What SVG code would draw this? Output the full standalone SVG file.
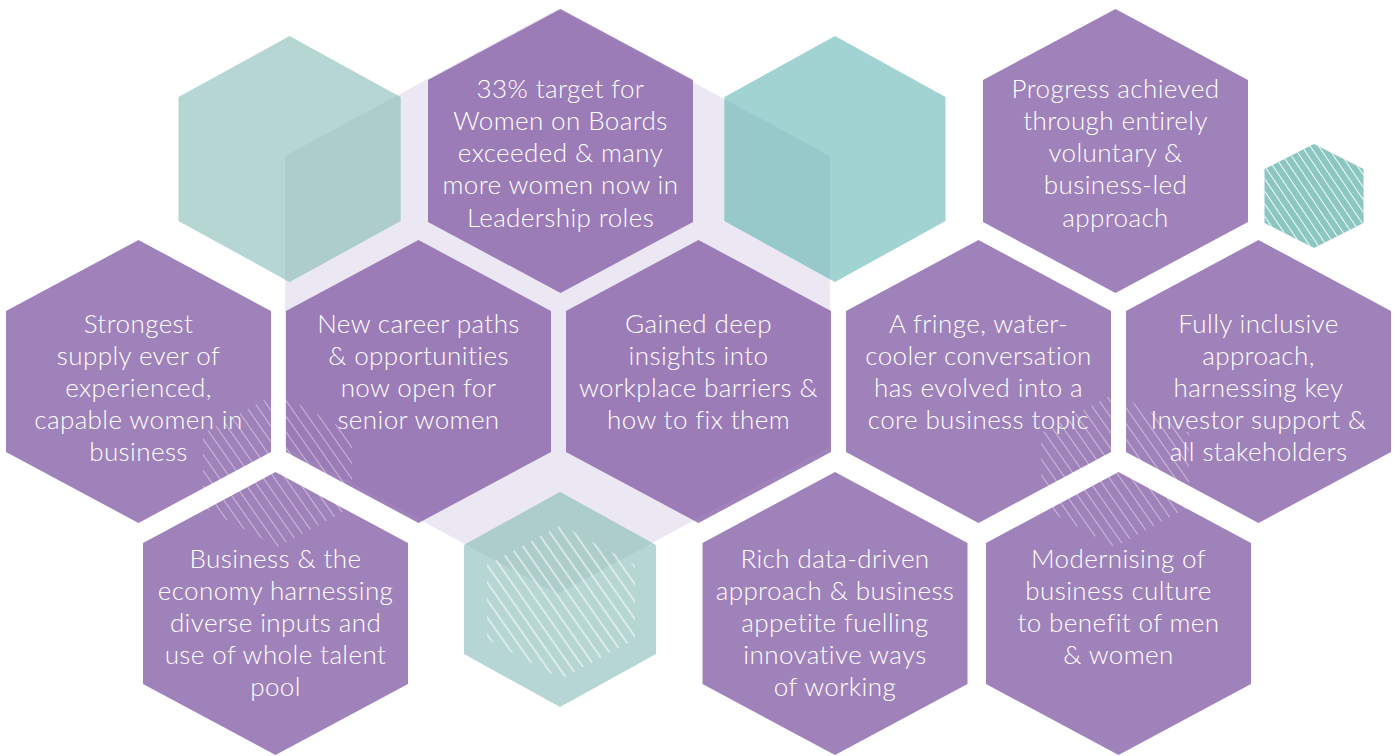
<svg xmlns="http://www.w3.org/2000/svg" width="1400" height="756" viewBox="0 0 1400 756">
  <defs>
    <style>
      .lav { fill: #ECE8F3; }
      .tealA { fill: #B5D6D3; }
      .tealA-dk { fill: #ADCDCB; }
      .tealB { fill: #A0D3D1; }
      .tealB-dk { fill: #97C9CB; }
      .tealS { fill: #8CC6C1; }
      .purple { fill: #7F56A2; fill-opacity: 0.74; }
      .hatch-soft { fill: url(#hatchSoft); }
      .hatch-white { fill: url(#hatchWhite); }
      .hatch-small { fill: url(#hatchSmall); }
      text { font-family: Lato, "Open Sans", "Liberation Sans", sans-serif; font-weight: 300; font-size: 26px; letter-spacing: 0.4px; fill: #FFFFFF; text-anchor: middle; }
    </style>
    <clipPath id="lavClip">
      <polygon points="557.5,9 830,156 830,447 557.5,594 285,447 285,156"/>
    </clipPath>
    <pattern id="hatchSoft" width="9" height="10" patternUnits="userSpaceOnUse" patternTransform="rotate(-35)">
      <line x1="4.5" y1="0" x2="4.5" y2="10" stroke="#FFFFFF" stroke-opacity="0.45" stroke-width="1"/>
    </pattern>
    <pattern id="hatchWhite" width="10" height="10" patternUnits="userSpaceOnUse" patternTransform="rotate(-35)">
      <line x1="5" y1="0" x2="5" y2="10" stroke="#FFFFFF" stroke-opacity="0.95" stroke-width="1.1"/>
    </pattern>
    <pattern id="hatchSmall" width="7" height="10" patternUnits="userSpaceOnUse" patternTransform="rotate(-34)">
      <line x1="3.5" y1="0" x2="3.5" y2="10" stroke="#FFFFFF" stroke-opacity="0.9" stroke-width="1"/>
    </pattern>
  </defs>

  <rect x="0" y="0" width="1400" height="756" fill="#FFFFFF"/>

  <!-- background lavender hexagon -->
  <g id="bg-lavender">
    <polygon class="lav" points="557.5,9 830,156 830,447 557.5,594 285,447 285,156"/>
  </g>

  <!-- decorative teal hexagons -->
  <g id="teal-top-left">
    <polygon class="tealA" points="289.5,36 400.5,97 400.5,221 289.5,282 178.5,221 178.5,97"/>
    <polygon class="tealA-dk" clip-path="url(#lavClip)" points="289.5,36 400.5,97 400.5,221 289.5,282 178.5,221 178.5,97"/>
  </g>
  <g id="teal-top-right">
    <polygon class="tealB" points="835,36 945.5,97 945.5,221 835,282 724.5,221 724.5,97"/>
    <polygon class="tealB-dk" clip-path="url(#lavClip)" points="835,36 945.5,97 945.5,221 835,282 724.5,221 724.5,97"/>
  </g>
  <g id="teal-bottom">
    <polygon class="tealA" points="560,492 656,545 656,654 560,707 464,654 464,545"/>
    <polygon class="tealA-dk" clip-path="url(#lavClip)" points="560,492 656,545 656,654 560,707 464,654 464,545"/>
    <polygon class="hatch-white" points="561,525 635,565 635,639 561,679 487,639 487,565"/>
  </g>
  <g id="teal-small">
    <polygon class="tealS" points="1314,144 1363.5,169 1363.5,223 1314,248 1264.5,223 1264.5,169"/>
    <polygon class="hatch-small" points="1314,144 1363.5,169 1363.5,223 1314,248 1264.5,223 1264.5,169"/>
  </g>

  <!-- row 1 -->
  <g id="node-33-target">
    <polygon class="purple" points="560.5,9 693,80 693,222 560.5,293 428,222 428,80"/>
    <text x="560.5" y="98">33% target for</text>
    <text x="560.5" y="130">Women on Boards</text>
    <text x="560.5" y="162">exceeded &amp; many</text>
    <text x="560.5" y="194">more women now in</text>
    <text x="560.5" y="227">Leadership roles</text>
  </g>
  <g id="node-progress">
    <polygon class="purple" points="1115.5,9 1248,80 1248,222 1115.5,293 983,222 983,80"/>
    <text x="1115.5" y="98">Progress achieved</text>
    <text x="1115.5" y="130">through entirely</text>
    <text x="1115.5" y="162">voluntary &amp;</text>
    <text x="1115.5" y="194">business-led</text>
    <text x="1115.5" y="227">approach</text>
  </g>

  <!-- row 2 -->
  <g id="node-strongest">
    <polygon class="purple" points="138.5,240 271,311 271,452 138.5,523 6,452 6,311"/>
    <text x="138.5" y="333">Strongest</text>
    <text x="138.5" y="365">supply ever of</text>
    <text x="138.5" y="397">experienced,</text>
    <text x="138.5" y="429">capable women in</text>
    <text x="138.5" y="461">business</text>
  </g>
  <g id="node-new-career">
    <polygon class="purple" points="418.5,240 551,311 551,452 418.5,523 286,452 286,311"/>
    <text x="418.5" y="333">New career paths</text>
    <text x="418.5" y="365">&amp; opportunities</text>
    <text x="418.5" y="397">now open for</text>
    <text x="418.5" y="429">senior women</text>
  </g>
  <g id="node-gained">
    <polygon class="purple" points="698.5,240 831,311 831,452 698.5,523 566,452 566,311"/>
    <text x="698.5" y="333">Gained deep</text>
    <text x="698.5" y="365">insights into</text>
    <text x="698.5" y="397">workplace barriers &amp;</text>
    <text x="698.5" y="429">how to fix them</text>
  </g>
  <g id="node-fringe">
    <polygon class="purple" points="978.5,240 1111,311 1111,452 978.5,523 846,452 846,311"/>
    <text x="978.5" y="333">A fringe, water-</text>
    <text x="978.5" y="365">cooler conversation</text>
    <text x="978.5" y="397">has evolved into a</text>
    <text x="978.5" y="429">core business topic</text>
  </g>
  <g id="node-inclusive">
    <polygon class="purple" points="1258.5,240 1391,311 1391,452 1258.5,523 1126,452 1126,311"/>
    <text x="1258.5" y="333">Fully inclusive</text>
    <text x="1258.5" y="365">approach,</text>
    <text x="1258.5" y="397">harnessing key</text>
    <text x="1258.5" y="429">Investor support &amp;</text>
    <text x="1258.5" y="461">all stakeholders</text>
  </g>

  <!-- row 3 -->
  <g id="node-business">
    <polygon class="purple" points="275.5,472 408,543 408,684 275.5,755 143,684 143,543"/>
    <text x="275.5" y="568">Business &amp; the</text>
    <text x="275.5" y="600">economy harnessing</text>
    <text x="275.5" y="632">diverse inputs and</text>
    <text x="275.5" y="664">use of whole talent</text>
    <text x="275.5" y="696">pool</text>
  </g>
  <g id="node-rich-data">
    <polygon class="purple" points="835,472 967.5,543 967.5,684 835,755 702.5,684 702.5,543"/>
    <text x="835" y="568">Rich data-driven</text>
    <text x="835" y="600">approach &amp; business</text>
    <text x="835" y="632">appetite fuelling</text>
    <text x="835" y="664">innovative ways</text>
    <text x="835" y="696">of working</text>
  </g>
  <g id="node-modernising">
    <polygon class="purple" points="1118.5,472 1251,543 1251,684 1118.5,755 986,684 986,543"/>
    <text x="1118.5" y="568">Modernising of</text>
    <text x="1118.5" y="600">business culture</text>
    <text x="1118.5" y="632">to benefit of men</text>
    <text x="1118.5" y="664">&amp; women</text>
  </g>

  <!-- hatched overlays -->
  <g id="hatch-left">
    <polygon class="hatch-soft" points="277.5,393 352,433 352,507 277.5,547 203,507 203,433"/>
  </g>
  <g id="hatch-right">
    <polygon class="hatch-soft" points="1115,393 1189,433 1189,507 1115,547 1041,507 1041,433"/>
  </g>

  <g id="connectors"/>
</svg>
